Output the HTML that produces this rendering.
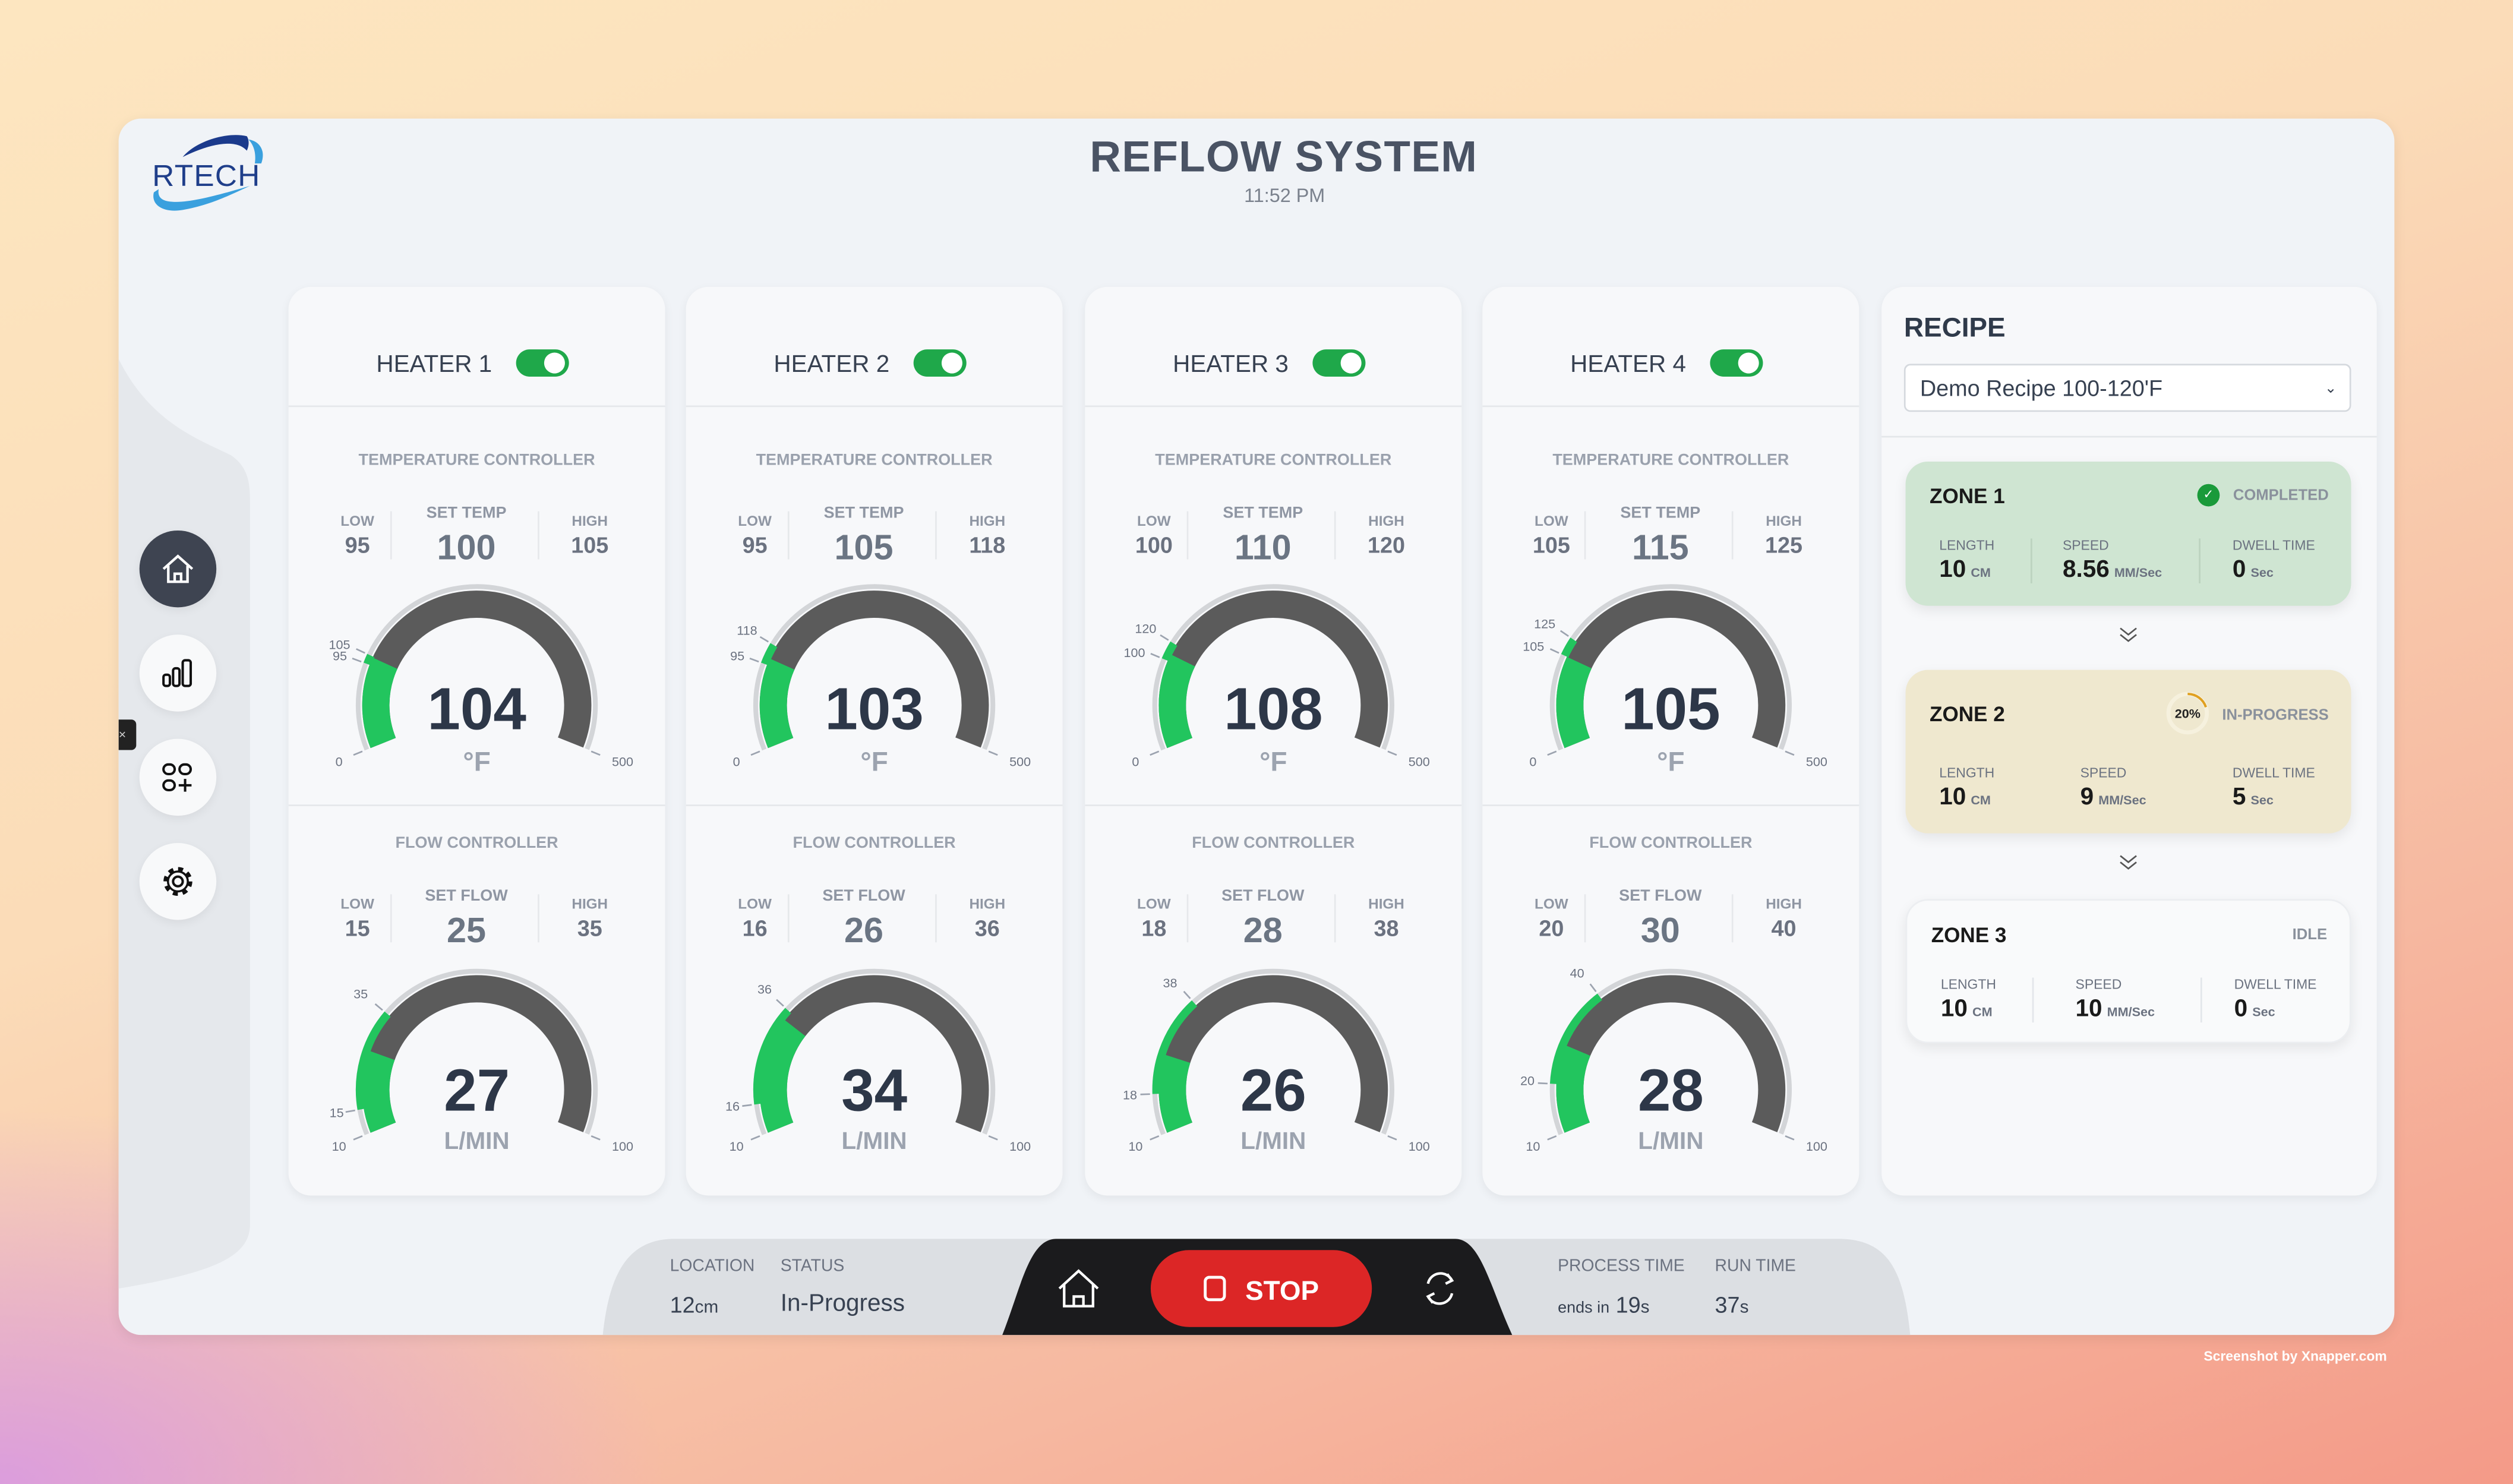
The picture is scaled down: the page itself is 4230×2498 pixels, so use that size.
<!DOCTYPE html>
<html><head><meta charset="utf-8">
<style>
*{box-sizing:border-box;margin:0;padding:0}
html,body{width:4230px;height:2498px;overflow:hidden}
body{font-family:"Liberation Sans",sans-serif;background:linear-gradient(160deg,#fde6c0 0%,#fbdcb8 40%,#f6b8a0 75%,#f49a88 100%)}
#bgl{position:absolute;left:0;top:0;width:4230px;height:2498px;background:radial-gradient(ellipse 1600px 900px at 0% 100%,rgba(214,150,230,.85),rgba(214,150,230,0) 70%)}
#w{position:absolute;left:0;top:0;width:1568px;height:926px;transform:scale(2.69770);transform-origin:0 0}
.abs{position:absolute}
#panel{left:74px;top:74px;width:1420px;height:759px;background:#f0f3f7;border-radius:14px;overflow:hidden;box-shadow:0 2px 8px rgba(0,0,0,.08)}
.card{position:absolute;top:105px;width:235px;height:567px;background:#f7f8fa;border-radius:14px;box-shadow:0 2px 6px rgba(0,0,0,.06)}
.card svg{position:absolute;left:0;top:0}
.nav{position:absolute;left:13px;width:48px;height:48px;border-radius:50%;background:#f8f9fa;box-shadow:0 2px 6px rgba(0,0,0,.06)}
.zone{position:absolute;left:15px;width:278px;border-radius:14px;box-shadow:0 3px 8px rgba(0,0,0,.08)}
.zt{position:absolute;left:15px;top:14px;font-size:13px;font-weight:bold;color:#1a1a1a}
.zs{position:absolute;right:14px;top:16px;font-size:9.5px;font-weight:bold;color:#8a919c}
.zl{position:absolute;font-size:8.5px;color:#6b7280}
.zv{position:absolute;font-size:15px;font-weight:bold;color:#1a1a1a}
.zv small{font-size:8px;color:#6b7280;margin-left:3px}
.bl{font-size:10.5px;color:#6b7280;position:absolute}
.bv{font-size:14px;color:#374151;position:absolute}
.tk line{stroke:#9ca3af;stroke-width:1}
</style></head><body>
<div id="bgl"></div>
<div id="w">
<div id="panel" class="abs">
  <svg class="abs" style="left:0;top:0" width="100" height="759">
    <path d="M0 150 C20 190 50 200 70 210 C82 218 82 230 82 240 L82 690 C82 710 60 720 0 730 Z" fill="#e5e8ec"/>
  </svg>
  <svg class="abs" style="left:18px;top:6px" width="80" height="55" viewBox="0 0 80 55">
    <path d="M22 18 C30 8 50 2 62 5 C64 8 63 12 62 14 C55 6 38 10 22 18Z" fill="#1b3a8c"/>
    <path d="M63 7 C70 8 74 14 71 22 L67 22 C68 15 66 10 63 7Z" fill="#3aa0de"/>
    <text x="3" y="36" font-size="19" font-family="Liberation Sans" fill="#1f3e8a" letter-spacing="0.5">RTECH</text>
    <path d="M4 40 C2 48 10 53 22 51 C40 48 55 40 64 36 C50 40 30 46 18 46 C10 46 6 44 7 38Z" fill="#3aa0de"/>
  </svg>
  <div class="abs" style="left:0;width:1454px;top:9px;text-align:center;font-size:27px;font-weight:bold;color:#4a5364;letter-spacing:0.5px">REFLOW SYSTEM</div>
  <div class="abs" style="left:0;width:1455px;top:41px;text-align:center;font-size:12px;color:#7a818d">11:52 PM</div>
  <div class="nav" style="top:257px;background:#3e4451"><svg width="48" height="48"><path d="M15 24 L24 16 L33 24 M18 22 V32 H30 V22 M22 32 V27 H26 V32" fill="none" stroke="#fff" stroke-width="1.6"/></svg></div>
  <div class="nav" style="top:322px"><svg width="48" height="48"><rect x="15" y="25" width="4" height="7" rx="1.5" fill="none" stroke="#111" stroke-width="1.5"/><rect x="21" y="21" width="4" height="11" rx="1.5" fill="none" stroke="#111" stroke-width="1.5"/><rect x="27" y="16" width="5" height="16" rx="1.5" fill="none" stroke="#111" stroke-width="1.5"/></svg></div>
  <div class="nav" style="top:387px"><svg width="48" height="48"><rect x="15" y="16" width="7" height="6" rx="3" fill="none" stroke="#111" stroke-width="1.5"/><rect x="25" y="16" width="7" height="6" rx="3" fill="none" stroke="#111" stroke-width="1.5"/><rect x="15" y="26" width="7" height="6" rx="3" fill="none" stroke="#111" stroke-width="1.5"/><path d="M28.5 25 V33 M24.5 29 H32.5" stroke="#111" stroke-width="1.5"/></svg></div>
  <div class="nav" style="top:452px"><svg width="48" height="48"><circle cx="24" cy="24" r="3" fill="none" stroke="#111" stroke-width="1.5"/><circle cx="24" cy="24" r="7.5" fill="none" stroke="#111" stroke-width="3" stroke-dasharray="3 2.9"/><circle cx="24" cy="24" r="6.2" fill="none" stroke="#111" stroke-width="1.3"/></svg></div>
  <div class="abs" style="left:0;top:375px;width:11px;height:19px;background:#222;border-radius:0 3px 3px 0;color:#ccc;font-size:8px;line-height:19px">×</div>

  <div class="card" style="left:106px">
  <svg width="235" height="567" font-family="Liberation Sans">
    <text x="127" y="53" text-anchor="end" font-size="15" fill="#374151">HEATER 1</text>
    <rect x="142" y="39" width="33" height="17" rx="8.5" fill="#1fa84a"/><circle cx="166" cy="47.5" r="6.5" fill="#fff"/>
    <line x1="0" y1="74.5" x2="235" y2="74.5" stroke="#e6e8eb"/><line x1="0" y1="323.5" x2="235" y2="323.5" stroke="#e6e8eb"/>
    <g font-weight="bold" text-anchor="middle">
    <text x="117.5" y="111" font-size="10" fill="#9aa1ad">TEMPERATURE CONTROLLER</text>
    <text x="43" y="149" font-size="9" fill="#8f96a3">LOW</text><text x="43" y="166" font-size="14" fill="#6b7280">95</text>
    <text x="111" y="144" font-size="10" fill="#8f96a3">SET TEMP</text><text x="111" y="170" font-size="22" fill="#6b7583">100</text>
    <text x="188" y="149" font-size="9" fill="#8f96a3">HIGH</text><text x="188" y="166" font-size="14" fill="#6b7280">105</text>
    <line x1="64" y1="140" x2="64" y2="170" stroke="#e6e8eb" stroke-width="1"/><line x1="156" y1="140" x2="156" y2="170" stroke="#e6e8eb"/>
    <text x="117.5" y="350" font-size="10" fill="#9aa1ad">FLOW CONTROLLER</text>
    <text x="43" y="388" font-size="9" fill="#8f96a3">LOW</text><text x="43" y="405" font-size="14" fill="#6b7280">15</text>
    <text x="111" y="383" font-size="10" fill="#8f96a3">SET FLOW</text><text x="111" y="409" font-size="22" fill="#6b7583">25</text>
    <text x="188" y="388" font-size="9" fill="#8f96a3">HIGH</text><text x="188" y="405" font-size="14" fill="#6b7280">35</text>
    <line x1="64" y1="379" x2="64" y2="409" stroke="#e6e8eb"/><line x1="156" y1="379" x2="156" y2="409" stroke="#e6e8eb"/>
    </g>
    <g transform="translate(117.5,261)" fill="none">
      <circle r="74" stroke="#d3d5d8" stroke-width="3" pathLength="360" stroke-dasharray="224 400" transform="rotate(158)"/>
      <circle r="63" stroke="#5b5b5b" stroke-width="17" pathLength="360" stroke-dasharray="224 400" transform="rotate(158)"/>
      <circle r="63" stroke="#22c55e" stroke-width="17" pathLength="360" stroke-dasharray="46.6 400" transform="rotate(158)"/>
      <circle r="73" stroke="#22c55e" stroke-width="5" pathLength="360" stroke-dasharray="4.5 400" transform="rotate(200.6)"/>
      <g class="tk"><line x1="77" y1="0" x2="83" y2="0" transform="rotate(158)"/><line x1="77" y1="0" x2="83" y2="0" transform="rotate(22)"/><line x1="77" y1="0" x2="83" y2="0" transform="rotate(200.6)"/><line x1="77" y1="0" x2="83" y2="0" transform="rotate(205)"/></g>
      <g fill="#6b7280" font-size="8" text-anchor="middle"><text x="-86" y="38">0</text><text x="91" y="38">500</text>
      <text x="-79" y="-35" text-anchor="end">105</text><text x="-81" y="-28" text-anchor="end">95</text></g>
      <text y="15" text-anchor="middle" font-size="37" font-weight="bold" fill="#2d3748">104</text>
      <text y="41" text-anchor="middle" font-size="17" font-weight="bold" fill="#9ca3af">°F</text>
    </g>
    <g transform="translate(117.5,501)" fill="none">
      <circle r="74" stroke="#d3d5d8" stroke-width="3" pathLength="360" stroke-dasharray="224 400" transform="rotate(158)"/>
      <circle r="63" stroke="#5b5b5b" stroke-width="17" pathLength="360" stroke-dasharray="224 400" transform="rotate(158)"/>
      <circle r="63" stroke="#22c55e" stroke-width="17" pathLength="360" stroke-dasharray="42 400" transform="rotate(158)"/>
      <circle r="73" stroke="#22c55e" stroke-width="5" pathLength="360" stroke-dasharray="50 400" transform="rotate(170.4)"/>
      <g class="tk"><line x1="77" y1="0" x2="83" y2="0" transform="rotate(158)"/><line x1="77" y1="0" x2="83" y2="0" transform="rotate(22)"/><line x1="77" y1="0" x2="83" y2="0" transform="rotate(170.4)"/><line x1="77" y1="0" x2="83" y2="0" transform="rotate(220.2)"/></g>
      <g fill="#6b7280" font-size="8" text-anchor="middle"><text x="-86" y="38">10</text><text x="91" y="38">100</text>
      <text x="-68" y="-57" text-anchor="end">35</text><text x="-83" y="17" text-anchor="end">15</text></g>
      <text y="13" text-anchor="middle" font-size="37" font-weight="bold" fill="#2d3748">27</text>
      <text y="37" text-anchor="middle" font-size="15" font-weight="bold" fill="#9ca3af">L/MIN</text>
    </g>
  </svg></div>

  <div class="card" style="left:354px">
  <svg width="235" height="567" font-family="Liberation Sans">
    <text x="127" y="53" text-anchor="end" font-size="15" fill="#374151">HEATER 2</text>
    <rect x="142" y="39" width="33" height="17" rx="8.5" fill="#1fa84a"/><circle cx="166" cy="47.5" r="6.5" fill="#fff"/>
    <line x1="0" y1="74.5" x2="235" y2="74.5" stroke="#e6e8eb"/><line x1="0" y1="323.5" x2="235" y2="323.5" stroke="#e6e8eb"/>
    <g font-weight="bold" text-anchor="middle">
    <text x="117.5" y="111" font-size="10" fill="#9aa1ad">TEMPERATURE CONTROLLER</text>
    <text x="43" y="149" font-size="9" fill="#8f96a3">LOW</text><text x="43" y="166" font-size="14" fill="#6b7280">95</text>
    <text x="111" y="144" font-size="10" fill="#8f96a3">SET TEMP</text><text x="111" y="170" font-size="22" fill="#6b7583">105</text>
    <text x="188" y="149" font-size="9" fill="#8f96a3">HIGH</text><text x="188" y="166" font-size="14" fill="#6b7280">118</text>
    <line x1="64" y1="140" x2="64" y2="170" stroke="#e6e8eb"/><line x1="156" y1="140" x2="156" y2="170" stroke="#e6e8eb"/>
    <text x="117.5" y="350" font-size="10" fill="#9aa1ad">FLOW CONTROLLER</text>
    <text x="43" y="388" font-size="9" fill="#8f96a3">LOW</text><text x="43" y="405" font-size="14" fill="#6b7280">16</text>
    <text x="111" y="383" font-size="10" fill="#8f96a3">SET FLOW</text><text x="111" y="409" font-size="22" fill="#6b7583">26</text>
    <text x="188" y="388" font-size="9" fill="#8f96a3">HIGH</text><text x="188" y="405" font-size="14" fill="#6b7280">36</text>
    <line x1="64" y1="379" x2="64" y2="409" stroke="#e6e8eb"/><line x1="156" y1="379" x2="156" y2="409" stroke="#e6e8eb"/>
    </g>
    <g transform="translate(117.5,261)" fill="none">
      <circle r="74" stroke="#d3d5d8" stroke-width="3" pathLength="360" stroke-dasharray="224 400" transform="rotate(158)"/>
      <circle r="63" stroke="#5b5b5b" stroke-width="17" pathLength="360" stroke-dasharray="224 400" transform="rotate(158)"/>
      <circle r="63" stroke="#22c55e" stroke-width="17" pathLength="360" stroke-dasharray="46.1 400" transform="rotate(158)"/>
      <circle r="73" stroke="#22c55e" stroke-width="5" pathLength="360" stroke-dasharray="10.3 400" transform="rotate(200.6)"/>
      <g class="tk"><line x1="77" y1="0" x2="83" y2="0" transform="rotate(158)"/><line x1="77" y1="0" x2="83" y2="0" transform="rotate(22)"/><line x1="77" y1="0" x2="83" y2="0" transform="rotate(200.6)"/><line x1="77" y1="0" x2="83" y2="0" transform="rotate(210.9)"/></g>
      <g fill="#6b7280" font-size="8" text-anchor="middle"><text x="-86" y="38">0</text><text x="91" y="38">500</text>
      <text x="-73" y="-44" text-anchor="end">118</text><text x="-81" y="-28" text-anchor="end">95</text></g>
      <text y="15" text-anchor="middle" font-size="37" font-weight="bold" fill="#2d3748">103</text>
      <text y="41" text-anchor="middle" font-size="17" font-weight="bold" fill="#9ca3af">°F</text>
    </g>
    <g transform="translate(117.5,501)" fill="none">
      <circle r="74" stroke="#d3d5d8" stroke-width="3" pathLength="360" stroke-dasharray="224 400" transform="rotate(158)"/>
      <circle r="63" stroke="#5b5b5b" stroke-width="17" pathLength="360" stroke-dasharray="224 400" transform="rotate(158)"/>
      <circle r="63" stroke="#22c55e" stroke-width="17" pathLength="360" stroke-dasharray="60 400" transform="rotate(158)"/>
      <circle r="73" stroke="#22c55e" stroke-width="5" pathLength="360" stroke-dasharray="49.7 400" transform="rotate(173)"/>
      <g class="tk"><line x1="77" y1="0" x2="83" y2="0" transform="rotate(158)"/><line x1="77" y1="0" x2="83" y2="0" transform="rotate(22)"/><line x1="77" y1="0" x2="83" y2="0" transform="rotate(173)"/><line x1="77" y1="0" x2="83" y2="0" transform="rotate(222.7)"/></g>
      <g fill="#6b7280" font-size="8" text-anchor="middle"><text x="-86" y="38">10</text><text x="91" y="38">100</text>
      <text x="-64" y="-60" text-anchor="end">36</text><text x="-84" y="13" text-anchor="end">16</text></g>
      <text y="13" text-anchor="middle" font-size="37" font-weight="bold" fill="#2d3748">34</text>
      <text y="37" text-anchor="middle" font-size="15" font-weight="bold" fill="#9ca3af">L/MIN</text>
    </g>
  </svg></div>

  <div class="card" style="left:603px">
  <svg width="235" height="567" font-family="Liberation Sans">
    <text x="127" y="53" text-anchor="end" font-size="15" fill="#374151">HEATER 3</text>
    <rect x="142" y="39" width="33" height="17" rx="8.5" fill="#1fa84a"/><circle cx="166" cy="47.5" r="6.5" fill="#fff"/>
    <line x1="0" y1="74.5" x2="235" y2="74.5" stroke="#e6e8eb"/><line x1="0" y1="323.5" x2="235" y2="323.5" stroke="#e6e8eb"/>
    <g font-weight="bold" text-anchor="middle">
    <text x="117.5" y="111" font-size="10" fill="#9aa1ad">TEMPERATURE CONTROLLER</text>
    <text x="43" y="149" font-size="9" fill="#8f96a3">LOW</text><text x="43" y="166" font-size="14" fill="#6b7280">100</text>
    <text x="111" y="144" font-size="10" fill="#8f96a3">SET TEMP</text><text x="111" y="170" font-size="22" fill="#6b7583">110</text>
    <text x="188" y="149" font-size="9" fill="#8f96a3">HIGH</text><text x="188" y="166" font-size="14" fill="#6b7280">120</text>
    <line x1="64" y1="140" x2="64" y2="170" stroke="#e6e8eb"/><line x1="156" y1="140" x2="156" y2="170" stroke="#e6e8eb"/>
    <text x="117.5" y="350" font-size="10" fill="#9aa1ad">FLOW CONTROLLER</text>
    <text x="43" y="388" font-size="9" fill="#8f96a3">LOW</text><text x="43" y="405" font-size="14" fill="#6b7280">18</text>
    <text x="111" y="383" font-size="10" fill="#8f96a3">SET FLOW</text><text x="111" y="409" font-size="22" fill="#6b7583">28</text>
    <text x="188" y="388" font-size="9" fill="#8f96a3">HIGH</text><text x="188" y="405" font-size="14" fill="#6b7280">38</text>
    <line x1="64" y1="379" x2="64" y2="409" stroke="#e6e8eb"/><line x1="156" y1="379" x2="156" y2="409" stroke="#e6e8eb"/>
    </g>
    <g transform="translate(117.5,261)" fill="none">
      <circle r="74" stroke="#d3d5d8" stroke-width="3" pathLength="360" stroke-dasharray="224 400" transform="rotate(158)"/>
      <circle r="63" stroke="#5b5b5b" stroke-width="17" pathLength="360" stroke-dasharray="224 400" transform="rotate(158)"/>
      <circle r="63" stroke="#22c55e" stroke-width="17" pathLength="360" stroke-dasharray="48.4 400" transform="rotate(158)"/>
      <circle r="73" stroke="#22c55e" stroke-width="5" pathLength="360" stroke-dasharray="9 400" transform="rotate(202.8)"/>
      <g class="tk"><line x1="77" y1="0" x2="83" y2="0" transform="rotate(158)"/><line x1="77" y1="0" x2="83" y2="0" transform="rotate(22)"/><line x1="77" y1="0" x2="83" y2="0" transform="rotate(202.8)"/><line x1="77" y1="0" x2="83" y2="0" transform="rotate(211.8)"/></g>
      <g fill="#6b7280" font-size="8" text-anchor="middle"><text x="-86" y="38">0</text><text x="91" y="38">500</text>
      <text x="-73" y="-45" text-anchor="end">120</text><text x="-80" y="-30" text-anchor="end">100</text></g>
      <text y="15" text-anchor="middle" font-size="37" font-weight="bold" fill="#2d3748">108</text>
      <text y="41" text-anchor="middle" font-size="17" font-weight="bold" fill="#9ca3af">°F</text>
    </g>
    <g transform="translate(117.5,501)" fill="none">
      <circle r="74" stroke="#d3d5d8" stroke-width="3" pathLength="360" stroke-dasharray="224 400" transform="rotate(158)"/>
      <circle r="63" stroke="#5b5b5b" stroke-width="17" pathLength="360" stroke-dasharray="224 400" transform="rotate(158)"/>
      <circle r="63" stroke="#22c55e" stroke-width="17" pathLength="360" stroke-dasharray="40 400" transform="rotate(158)"/>
      <circle r="73" stroke="#22c55e" stroke-width="5" pathLength="360" stroke-dasharray="49.7 400" transform="rotate(178)"/>
      <g class="tk"><line x1="77" y1="0" x2="83" y2="0" transform="rotate(158)"/><line x1="77" y1="0" x2="83" y2="0" transform="rotate(22)"/><line x1="77" y1="0" x2="83" y2="0" transform="rotate(178)"/><line x1="77" y1="0" x2="83" y2="0" transform="rotate(227.7)"/></g>
      <g fill="#6b7280" font-size="8" text-anchor="middle"><text x="-86" y="38">10</text><text x="91" y="38">100</text>
      <text x="-60" y="-64" text-anchor="end">38</text><text x="-85" y="6" text-anchor="end">18</text></g>
      <text y="13" text-anchor="middle" font-size="37" font-weight="bold" fill="#2d3748">26</text>
      <text y="37" text-anchor="middle" font-size="15" font-weight="bold" fill="#9ca3af">L/MIN</text>
    </g>
  </svg></div>

  <div class="card" style="left:851px">
  <svg width="235" height="567" font-family="Liberation Sans">
    <text x="127" y="53" text-anchor="end" font-size="15" fill="#374151">HEATER 4</text>
    <rect x="142" y="39" width="33" height="17" rx="8.5" fill="#1fa84a"/><circle cx="166" cy="47.5" r="6.5" fill="#fff"/>
    <line x1="0" y1="74.5" x2="235" y2="74.5" stroke="#e6e8eb"/><line x1="0" y1="323.5" x2="235" y2="323.5" stroke="#e6e8eb"/>
    <g font-weight="bold" text-anchor="middle">
    <text x="117.5" y="111" font-size="10" fill="#9aa1ad">TEMPERATURE CONTROLLER</text>
    <text x="43" y="149" font-size="9" fill="#8f96a3">LOW</text><text x="43" y="166" font-size="14" fill="#6b7280">105</text>
    <text x="111" y="144" font-size="10" fill="#8f96a3">SET TEMP</text><text x="111" y="170" font-size="22" fill="#6b7583">115</text>
    <text x="188" y="149" font-size="9" fill="#8f96a3">HIGH</text><text x="188" y="166" font-size="14" fill="#6b7280">125</text>
    <line x1="64" y1="140" x2="64" y2="170" stroke="#e6e8eb"/><line x1="156" y1="140" x2="156" y2="170" stroke="#e6e8eb"/>
    <text x="117.5" y="350" font-size="10" fill="#9aa1ad">FLOW CONTROLLER</text>
    <text x="43" y="388" font-size="9" fill="#8f96a3">LOW</text><text x="43" y="405" font-size="14" fill="#6b7280">20</text>
    <text x="111" y="383" font-size="10" fill="#8f96a3">SET FLOW</text><text x="111" y="409" font-size="22" fill="#6b7583">30</text>
    <text x="188" y="388" font-size="9" fill="#8f96a3">HIGH</text><text x="188" y="405" font-size="14" fill="#6b7280">40</text>
    <line x1="64" y1="379" x2="64" y2="409" stroke="#e6e8eb"/><line x1="156" y1="379" x2="156" y2="409" stroke="#e6e8eb"/>
    </g>
    <g transform="translate(117.5,261)" fill="none">
      <circle r="74" stroke="#d3d5d8" stroke-width="3" pathLength="360" stroke-dasharray="224 400" transform="rotate(158)"/>
      <circle r="63" stroke="#5b5b5b" stroke-width="17" pathLength="360" stroke-dasharray="224 400" transform="rotate(158)"/>
      <circle r="63" stroke="#22c55e" stroke-width="17" pathLength="360" stroke-dasharray="47 400" transform="rotate(158)"/>
      <circle r="73" stroke="#22c55e" stroke-width="5" pathLength="360" stroke-dasharray="9 400" transform="rotate(205)"/>
      <g class="tk"><line x1="77" y1="0" x2="83" y2="0" transform="rotate(158)"/><line x1="77" y1="0" x2="83" y2="0" transform="rotate(22)"/><line x1="77" y1="0" x2="83" y2="0" transform="rotate(205)"/><line x1="77" y1="0" x2="83" y2="0" transform="rotate(214)"/></g>
      <g fill="#6b7280" font-size="8" text-anchor="middle"><text x="-86" y="38">0</text><text x="91" y="38">500</text>
      <text x="-72" y="-48" text-anchor="end">125</text><text x="-79" y="-34" text-anchor="end">105</text></g>
      <text y="15" text-anchor="middle" font-size="37" font-weight="bold" fill="#2d3748">105</text>
      <text y="41" text-anchor="middle" font-size="17" font-weight="bold" fill="#9ca3af">°F</text>
    </g>
    <g transform="translate(117.5,501)" fill="none">
      <circle r="74" stroke="#d3d5d8" stroke-width="3" pathLength="360" stroke-dasharray="224 400" transform="rotate(158)"/>
      <circle r="63" stroke="#5b5b5b" stroke-width="17" pathLength="360" stroke-dasharray="224 400" transform="rotate(158)"/>
      <circle r="63" stroke="#22c55e" stroke-width="17" pathLength="360" stroke-dasharray="45 400" transform="rotate(158)"/>
      <circle r="73" stroke="#22c55e" stroke-width="5" pathLength="360" stroke-dasharray="49.8 400" transform="rotate(182.9)"/>
      <g class="tk"><line x1="77" y1="0" x2="83" y2="0" transform="rotate(158)"/><line x1="77" y1="0" x2="83" y2="0" transform="rotate(22)"/><line x1="77" y1="0" x2="83" y2="0" transform="rotate(182.9)"/><line x1="77" y1="0" x2="83" y2="0" transform="rotate(232.7)"/></g>
      <g fill="#6b7280" font-size="8" text-anchor="middle"><text x="-86" y="38">10</text><text x="91" y="38">100</text>
      <text x="-54" y="-70" text-anchor="end">40</text><text x="-85" y="-3" text-anchor="end">20</text></g>
      <text y="13" text-anchor="middle" font-size="37" font-weight="bold" fill="#2d3748">28</text>
      <text y="37" text-anchor="middle" font-size="15" font-weight="bold" fill="#9ca3af">L/MIN</text>
    </g>
  </svg></div>

  <div class="abs" style="left:1100px;top:105px;width:309px;height:567px;background:#f7f8fa;border-radius:14px;box-shadow:0 2px 6px rgba(0,0,0,.06)">
    <div class="abs" style="left:14px;top:16px;font-size:17px;font-weight:bold;color:#2f3a4a">RECIPE</div>
    <div class="abs" style="left:14px;top:48px;width:279px;height:30px;background:#fff;border:1px solid #d5d9de;border-radius:4px;font-size:14px;color:#374151;line-height:28px;padding-left:9px">Demo Recipe 100-120'F<span style="position:absolute;right:8px;top:0;font-size:9px">&#8964;</span></div>
    <div class="abs" style="left:0;top:93px;width:309px;height:1px;background:#e3e6ea"></div>

    <div class="zone" style="top:109px;height:90px;background:#cfe5d2">
      <div class="zt">ZONE 1</div>
      <div class="abs" style="left:182px;top:14px;width:14px;height:14px;border-radius:50%;background:#1a9a3a;color:#fff;font-size:8px;text-align:center;line-height:14px">✓</div>
      <div class="zs">COMPLETED</div>
      <div class="zl" style="left:21px;top:47px">LENGTH</div><div class="zv" style="left:21px;top:59px">10<small>CM</small></div>
      <div class="zl" style="left:98px;top:47px">SPEED</div><div class="zv" style="left:98px;top:59px">8.56<small>MM/Sec</small></div>
      <div class="zl" style="left:204px;top:47px">DWELL TIME</div><div class="zv" style="left:204px;top:59px">0<small>Sec</small></div>
      <div class="abs" style="left:78px;top:48px;width:1px;height:28px;background:#bcd3bf"></div><div class="abs" style="left:183px;top:48px;width:1px;height:28px;background:#bcd3bf"></div>
    </div>
    <svg class="abs" style="left:147px;top:211px" width="14" height="12"><path d="M2 2 L7 6 L12 2 M2 6 L7 10 L12 6" fill="none" stroke="#555" stroke-width="1"/></svg>
    <div class="zone" style="top:239px;height:102px;background:#efe8cf">
      <div class="zt" style="top:20px">ZONE 2</div>
      <svg class="abs" style="left:162px;top:13px" width="28" height="28"><circle cx="14" cy="14" r="12" fill="none" stroke="#f6f1de" stroke-width="2.5"/><circle cx="14" cy="14" r="12" fill="none" stroke="#e0a020" stroke-width="1.5" pathLength="100" stroke-dasharray="20 100" transform="rotate(-90 14 14)"/><text x="14" y="17" font-size="8" font-weight="bold" text-anchor="middle" fill="#222" font-family="Liberation Sans">20%</text></svg>
      <div class="zs" style="top:23px">IN-PROGRESS</div>
      <div class="zl" style="left:21px;top:59px">LENGTH</div><div class="zv" style="left:21px;top:71px">10<small>CM</small></div>
      <div class="zl" style="left:109px;top:59px">SPEED</div><div class="zv" style="left:109px;top:71px">9<small>MM/Sec</small></div>
      <div class="zl" style="left:204px;top:59px">DWELL TIME</div><div class="zv" style="left:204px;top:71px">5<small>Sec</small></div>
    </div>
    <svg class="abs" style="left:147px;top:353px" width="14" height="12"><path d="M2 2 L7 6 L12 2 M2 6 L7 10 L12 6" fill="none" stroke="#555" stroke-width="1"/></svg>
    <div class="zone" style="top:382px;height:90px;background:#f9fafb;border:1px solid #eceef1">
      <div class="zt">ZONE 3</div>
      <div class="zs">IDLE</div>
      <div class="zl" style="left:21px;top:47px">LENGTH</div><div class="zv" style="left:21px;top:59px">10<small>CM</small></div>
      <div class="zl" style="left:105px;top:47px">SPEED</div><div class="zv" style="left:105px;top:59px">10<small>MM/Sec</small></div>
      <div class="zl" style="left:204px;top:47px">DWELL TIME</div><div class="zv" style="left:204px;top:59px">0<small>Sec</small></div>
      <div class="abs" style="left:78px;top:48px;width:1px;height:28px;background:#e3e6ea"></div><div class="abs" style="left:183px;top:48px;width:1px;height:28px;background:#e3e6ea"></div>
    </div>
  </div>

  <svg class="abs" style="left:0;top:690px" width="1420" height="70">
    <path d="M302 70 C306 30 318 10 345 9 L1075 9 C1105 10 1114 30 1118 70 Z" fill="#dcdfe3"/>
    <path d="M551 70 C563 40 568 9 585 9 L834 9 C850 9 856 40 870 70 Z" fill="#1b1b1d"/>
    <rect x="644" y="16" width="138" height="48" rx="24" fill="#dc2626"/>
    <rect x="678" y="33" width="12" height="14" rx="2.5" fill="none" stroke="#fff" stroke-width="1.8"/>
    <text x="703" y="47" font-size="17" font-weight="bold" fill="#fff" font-family="Liberation Sans">STOP</text>
    <path d="M587 40 L599 29 L611 40 M590 37 V51 H608 V37 M596 51 V45 H602 V51" fill="none" stroke="#fff" stroke-width="1.6"/>
    <path d="M832 35 A8 8 0 0 0 817 37 M817 45 A8 8 0 0 0 832 43 M829 31 L832 35 L828 37 M820 49 L817 45 L821 43" fill="none" stroke="#fff" stroke-width="1.6"/>
  </svg>
  <div class="bl" style="left:344px;top:710px">LOCATION</div>
  <div class="bv" style="left:344px;top:732px">12<span style="font-size:11px">cm</span></div>
  <div class="bl" style="left:413px;top:710px">STATUS</div>
  <div class="bv" style="left:413px;top:731px;font-size:15px">In-Progress</div>
  <div class="bl" style="left:898px;top:710px">PROCESS TIME</div>
  <div class="bv" style="left:898px;top:732px"><span style="font-size:10px">ends in</span> 19<span style="font-size:11px">s</span></div>
  <div class="bl" style="left:996px;top:710px">RUN TIME</div>
  <div class="bv" style="left:996px;top:732px">37<span style="font-size:11px">s</span></div>
</div>
<div class="abs" style="left:1375px;top:841px;font-size:8.5px;color:#fff;font-weight:bold">Screenshot by Xnapper.com</div>
</div>
</body></html>
